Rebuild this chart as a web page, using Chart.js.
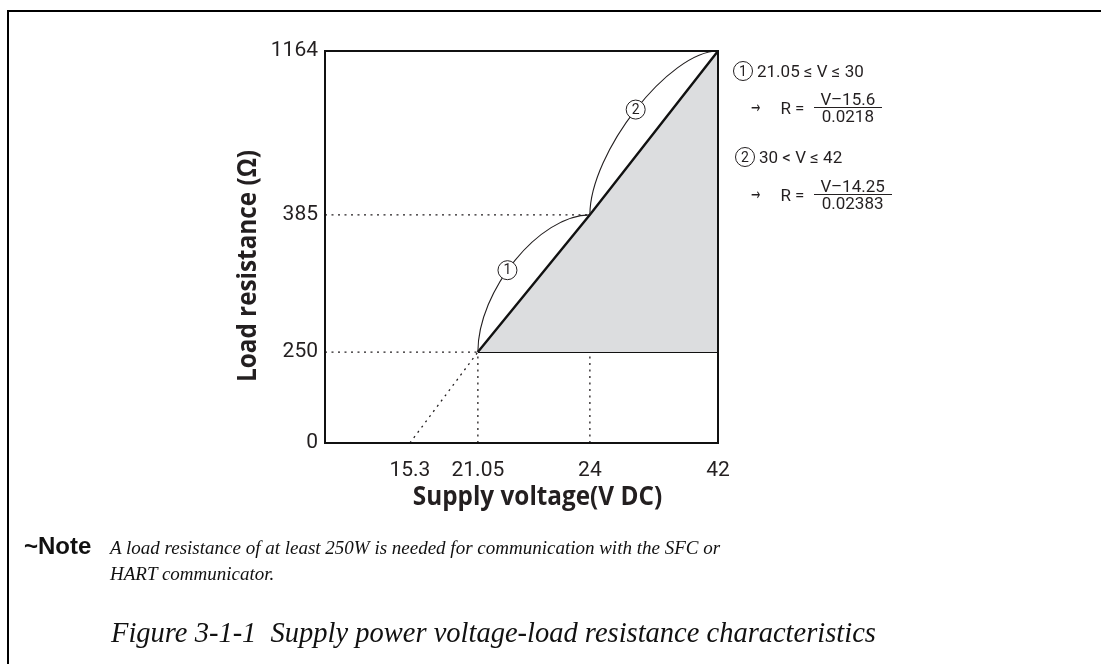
<!DOCTYPE html>
<html>
<head>
<meta charset="utf-8">
<script src="https://cdn.jsdelivr.net/npm/chart.js@4.4.0/dist/chart.umd.min.js"></script>
<style>
  html, body { margin: 0; padding: 0; background: #fff; }
  body { width: 1101px; height: 664px; position: relative; overflow: hidden; font-family: Roboto, sans-serif; color: #231f20; }
  #frame { position: absolute; left: 7px; top: 10px; width: 1100px; height: 660px; border-top: 2px solid #000; border-left: 2px solid #000; }
  #chart { position: absolute; left: 0; top: 0; }
  .eq { position: absolute; display: flex; align-items: center; font-size: 17px; white-space: nowrap; }
  .cn { display: inline-block; width: 18px; height: 18px; border: 1px solid #231f20; border-radius: 50%; font-size: 14px; line-height: 18px; text-align: center; margin-right: 4px; }
  .arrow { font: 16px "DejaVu Sans", sans-serif; margin-right: 18px; transform: scaleX(0.7); display: inline-block; }
  .frac { display: inline-flex; flex-direction: column; align-items: center; margin-left: 8px; }
  .frac div { line-height: 16px; padding: 0 8px; }
  .frac div + div { border-top: 1.3px solid #231f20; }
  #noteHead { position: absolute; left: 24px; top: 533px; font: bold 24px "Liberation Sans", Arial, sans-serif; line-height: 26px; color: #111; }
  #noteText { position: absolute; left: 110px; top: 535px; font: italic 19px "Liberation Serif", serif; line-height: 26px; color: #111; }
  #caption { position: absolute; left: 111px; top: 617px; font: italic 28.5px "Liberation Serif", serif; line-height: 32px; white-space: pre; color: #111; }
</style>
</head>
<body>
<div id="frame"></div>
<canvas id="chart" width="1101" height="664"></canvas>

<div class="eq" style="left:733px; top:61px;"><span class="cn">1</span>21.05 ≤ V ≤ 30</div>
<div class="eq" style="left:749px; top:91px;"><span class="arrow">→</span>R =<span class="frac"><div>V–15.6</div><div>0.0218</div></span></div>
<div class="eq" style="left:735px; top:147px;"><span class="cn">2</span>30 &lt; V ≤ 42</div>
<div class="eq" style="left:749px; top:178px;"><span class="arrow">→</span>R =<span class="frac"><div>V–14.25</div><div>0.02383</div></span></div>

<div id="noteHead">~Note</div>
<div id="noteText">A load resistance of at least 250W is needed for communication with the SFC or<br>HART communicator.</div>
<div id="caption">Figure 3-1-1  Supply power voltage-load resistance characteristics</div>

<script>
// tick positions on both axes
var voltTicks = [15.3, 21.05, 24, 42];
var ohmTicks = [0, 250, 385, 1164];

// operating limit: supply voltage vs. maximum load resistance
var limitV = [21.05, 24, 42];
var limitR = [250, 385, 1164];

// load line extrapolated to 0 ohm
var zeroLoadV = 15.3;
var minLoadR = 250;

// numbers of the two formula ranges
var rangeNames = ['1', '2'];

// the axes are not to scale: each break value sits at a fixed fraction of the axis
var axisBreaks = {
  x: { values: [10, 15.3, 21.05, 24, 42], stops: [0, 0.216, 0.389, 0.674, 1] },
  y: { values: [0, 250, 385, 1164], stops: [0, 0.232, 0.582, 1] }
};

class BrokenScale extends Chart.LinearScale {
  buildTicks() {
    var vals = this.id === 'x' ? voltTicks : ohmTicks;
    return vals.map(function (v) { return { value: v }; });
  }
  getPixelForValue(value) {
    var b = axisBreaks[this.id], v = b.values, s = b.stops;
    var f = s[0];
    if (value >= v[v.length - 1]) f = s[s.length - 1];
    else {
      for (var i = 1; i < v.length; i++) {
        if (value <= v[i]) {
          f = s[i - 1] + (value - v[i - 1]) / (v[i] - v[i - 1]) * (s[i] - s[i - 1]);
          break;
        }
      }
    }
    return this.getPixelForDecimal(f);
  }
  getValueForPixel(pixel) {
    var b = axisBreaks[this.id], v = b.values, s = b.stops;
    var f = this.getDecimalForPixel(pixel);
    for (var i = 1; i < s.length; i++) {
      if (f <= s[i]) return v[i - 1] + (f - s[i - 1]) / (s[i] - s[i - 1]) * (v[i] - v[i - 1]);
    }
    return v[v.length - 1];
  }
}
BrokenScale.id = 'broken';
BrokenScale.defaults = Chart.LinearScale.defaults;
Chart.register(BrokenScale);

var ink = '#231f20';

// the two curved brackets with their circled numbers
var rangeArcs = {
  id: 'rangeArcs',
  afterDatasetsDraw: function (chart, args, opts) {
    var ctx = chart.ctx, xs = chart.scales.x, ys = chart.scales.y;
    ctx.save();
    for (var i = 0; i < rangeNames.length; i++) {
      var x0 = xs.getPixelForValue(limitV[i]), y0 = ys.getPixelForValue(limitR[i]);
      var x3 = xs.getPixelForValue(limitV[i + 1]), y3 = ys.getPixelForValue(limitR[i + 1]);
      var k = opts.bulge[i];
      var x1 = x0, y1 = y0 - k * (y0 - y3);
      var x2 = x3 - k * (x3 - x0), y2 = y3;
      ctx.beginPath();
      ctx.moveTo(x0, y0);
      ctx.bezierCurveTo(x1, y1, x2, y2, x3, y3);
      ctx.strokeStyle = ink;
      ctx.lineWidth = 1.1;
      ctx.stroke();

      var t = opts.labelAt[i], u = 1 - t;
      var a = u * u * u, b = 3 * u * u * t, c = 3 * u * t * t, d = t * t * t;
      var lx = a * x0 + b * x1 + c * x2 + d * x3;
      var ly = a * y0 + b * y1 + c * y2 + d * y3;
      ctx.beginPath();
      ctx.arc(lx, ly, 9.5, 0, Math.PI * 2);
      ctx.fillStyle = '#fff';
      ctx.fill();
      ctx.lineWidth = 1;
      ctx.stroke();
      ctx.fillStyle = ink;
      ctx.font = '14px Roboto';
      ctx.textAlign = 'center';
      ctx.textBaseline = 'middle';
      ctx.fillText(rangeNames[i], lx, ly + 0.5);
    }
    ctx.restore();
  }
};

// box round the plot area and the two axis titles (narrowed bold face)
var plotFrame = {
  id: 'plotFrame',
  afterDraw: function (chart, args, opts) {
    var ctx = chart.ctx, a = chart.chartArea;
    ctx.save();
    ctx.strokeStyle = '#111';
    ctx.lineWidth = 2;
    ctx.strokeRect(a.left, a.top, a.right - a.left, a.bottom - a.top);
    ctx.fillStyle = ink;
    ctx.font = 'bold 27px "Open Sans"';
    ctx.textAlign = 'center';
    ctx.textBaseline = 'middle';

    ctx.save();
    ctx.translate((a.left + a.right) / 2 + 16, a.bottom + 54);
    ctx.scale(0.9, 1);
    ctx.fillText(opts.xTitle, 0, 0);
    ctx.restore();

    ctx.translate(a.left - 77, (a.top + a.bottom) / 2 + 19);
    ctx.rotate(-Math.PI / 2);
    ctx.scale(0.9, 1);
    ctx.fillText(opts.yTitle, 0, 0);
    ctx.restore();
  }
};

function pts(xv, yv) {
  return xv.map(function (v, i) { return { x: v, y: yv[i] }; });
}

var dotted = { borderColor: ink, borderWidth: 1.3, borderDash: [2, 4.5], pointRadius: 0, showLine: true, fill: false };
var xMin = axisBreaks.x.values[0];

new Chart(document.getElementById('chart'), {
  type: 'scatter',
  data: {
    datasets: [
      // allowed operating region
      { data: pts(limitV, limitR), showLine: true, fill: { value: minLoadR }, backgroundColor: '#dcdddf',
        borderColor: '#111', borderWidth: 2.4, pointRadius: 0 },
      { data: pts([limitV[0], limitV[limitV.length - 1]], [minLoadR, minLoadR]), showLine: true,
        borderColor: '#111', borderWidth: 2, pointRadius: 0 },
      // guide lines
      Object.assign({ data: pts([xMin, limitV[0]], [limitR[0], limitR[0]]) }, dotted),
      Object.assign({ data: pts([xMin, limitV[1]], [limitR[1], limitR[1]]) }, dotted),
      Object.assign({ data: pts([limitV[0], limitV[0]], [0, limitR[0]]) }, dotted),
      Object.assign({ data: pts([limitV[1], limitV[1]], [0, limitR[1]]) }, dotted),
      Object.assign({ data: pts([zeroLoadV, limitV[0]], [0, limitR[0]]) }, dotted)
    ]
  },
  options: {
    responsive: false,
    animation: false,
    devicePixelRatio: 1,
    layout: { padding: { left: 235, top: 51, right: 383, bottom: 161 } },
    plugins: {
      legend: { display: false },
      tooltip: { enabled: false },
      rangeArcs: { bulge: [0.45, 0.38], labelAt: [0.44, 0.5] },
      plotFrame: { xTitle: 'Supply voltage(V DC)', yTitle: 'Load resistance (Ω)' }
    },
    scales: {
      x: {
        type: 'broken', min: xMin, max: 42,
        grid: { display: false, drawTicks: false }, border: { display: false },
        ticks: { autoSkip: false, maxRotation: 0, padding: 15, color: ink, font: { family: 'Roboto', size: 21 },
          callback: function (v) { return String(v); } },
        afterFit: function (s) { s.height = 60; }
      },
      y: {
        type: 'broken', min: 0, max: 1164,
        grid: { display: false, drawTicks: false }, border: { display: false },
        ticks: { autoSkip: false, padding: 7, color: ink, font: { family: 'Roboto', size: 21 },
          callback: function (v) { return String(v); } },
        afterFit: function (s) { s.width = 90; }
      }
    }
  },
  plugins: [rangeArcs, plotFrame]
});
</script>
</body>
</html>
